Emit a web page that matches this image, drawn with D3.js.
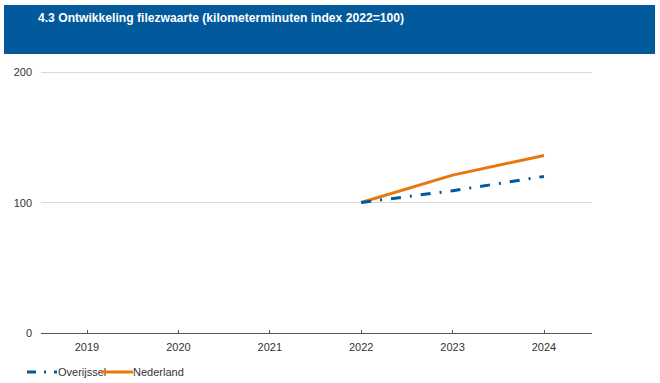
<!DOCTYPE html>
<html><head><meta charset="utf-8">
<script src="https://cdn.jsdelivr.net/npm/d3@7"></script>
<style>body{margin:0;background:#fff}svg{display:block}</style>
</head><body>
<svg id="c" width="660" height="383"></svg>
<script>
const title = "4.3 Ontwikkeling filezwaarte (kilometerminuten index 2022=100)";
const years = ["2019","2020","2021","2022","2023","2024"];
const overijssel = [null,null,null,100,109,120];
const nederland = [null,null,null,100,121,136];
const yTicks = [0,100,200];
const seriesNames = ["Overijssel","Nederland"];

const svg = d3.select("#c");
const font = "Arial, 'Liberation Sans', sans-serif";
svg.append("rect").attr("x",4).attr("y",5).attr("width",651).attr("height",49).attr("fill","#02599b");
svg.append("text").attr("x",38).attr("y",22).attr("fill","#fff")
  .attr("font-family","'Liberation Sans Narrow', 'Arial Narrow', Arial, sans-serif")
  .attr("font-weight","bold").attr("font-size",13)
  .attr("textLength",366).attr("lengthAdjust","spacingAndGlyphs").text(title);

const x = d3.scalePoint().domain(years).range([87,544]);
const y = d3.scaleLinear().domain([0,200]).range([333,72]);
const x0 = 41, x1 = 592;

const g = svg.append("g");
g.selectAll("line.grid").data(yTicks.filter(d=>d>0)).join("line")
  .attr("x1",x0).attr("x2",x1).attr("y1",d=>y(d)).attr("y2",d=>y(d))
  .attr("stroke","#d9d9d9").attr("stroke-width",1).attr("shape-rendering","crispEdges");
g.selectAll("text.yl").data(yTicks).join("text")
  .attr("x",32).attr("y",d=>y(d)+4).attr("text-anchor","end")
  .attr("font-family",font).attr("font-size",11).attr("fill","#333").text(d=>d);

g.append("line").attr("x1",x0).attr("x2",x1).attr("y1",333).attr("y2",333)
  .attr("stroke","#555").attr("stroke-width",1).attr("shape-rendering","crispEdges");
g.selectAll("line.tk").data(years).join("line")
  .attr("x1",d=>x(d)).attr("x2",d=>x(d)).attr("y1",330).attr("y2",333)
  .attr("stroke","#555").attr("shape-rendering","crispEdges");
g.selectAll("text.xl").data(years).join("text")
  .attr("x",d=>x(d)).attr("y",351).attr("text-anchor","middle")
  .attr("font-family",font).attr("font-size",11).attr("fill","#333").text(d=>d);

const line = d3.line().defined(d=>d.v!=null).x(d=>x(d.k)).y(d=>y(d.v));
const toPts = arr => years.map((k,i)=>({k, v: arr[i]}));
g.append("path").datum(toPts(nederland)).attr("d",line).attr("fill","none")
  .attr("stroke","#e8770e").attr("stroke-width",3).attr("stroke-linecap","butt");
g.append("path").datum(toPts(overijssel)).attr("d",line).attr("fill","none")
  .attr("stroke","#02599b").attr("stroke-width",3).attr("stroke-dasharray","10,9,2,9");

// legend
const lg = svg.append("g");
lg.append("line").attr("x1",27).attr("x2",57).attr("y1",372).attr("y2",372)
  .attr("stroke","#02599b").attr("stroke-width",3).attr("stroke-dasharray","9,8,2,8");
lg.append("text").attr("x",58).attr("y",376).attr("font-family",font).attr("font-size",11).attr("fill","#333").text(seriesNames[0]);
lg.append("line").attr("x1",101).attr("x2",133).attr("y1",372).attr("y2",372)
  .attr("stroke","#e8770e").attr("stroke-width",3);
lg.append("text").attr("x",133).attr("y",376).attr("font-family",font).attr("font-size",11).attr("fill","#333").text(seriesNames[1]);
</script>
</body></html>
